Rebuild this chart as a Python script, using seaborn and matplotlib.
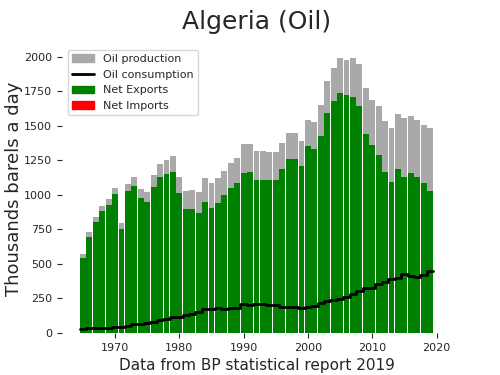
import numpy as np
import pandas as pd
import seaborn as sns
import matplotlib
matplotlib.use('Agg')
import matplotlib.pyplot as plt

# Algeria oil, thousands of barrels a day
years = list(range(1965, 2020))
production = [569, 731, 842, 922, 968, 1053, 799, 1079, 1130, 1045,
              1024, 1142, 1225, 1254, 1283, 1133, 1029, 1036, 1024, 1123,
              1084, 1125, 1176, 1232, 1266, 1367, 1370, 1319, 1319, 1314,
              1309, 1377, 1447, 1447, 1394, 1546, 1532, 1650, 1827, 1919,
              1989, 1980, 1992, 1951, 1774, 1687, 1641, 1537, 1486, 1588,
              1556, 1575, 1542, 1510, 1483]
consumption = [29, 34, 36, 36, 39, 44, 46, 50, 63, 67,
               73, 82, 95, 102, 119, 117, 131, 138, 155, 172,
               176, 181, 177, 184, 182, 210, 206, 211, 211, 206,
               200, 186, 186, 186, 184, 188, 199, 220, 230, 237,
               247, 259, 286, 305, 329, 327, 354, 373, 392, 402,
               426, 413, 409, 421, 452]

df = pd.DataFrame({'year': years, 'production': production, 'consumption': consumption})
df['net'] = df['production'] - df['consumption']
df['exports'] = df['net'].clip(lower=0)
df['imports'] = (-df['net']).clip(lower=0)

sns.set_style('ticks')
fig = plt.figure(figsize=(5, 3.75), dpi=100)
ax = fig.add_axes([0.124, 0.112, 0.778, 0.77])

bar_kw = dict(native_scale=True, saturation=1, width=0.92, errorbar=None,
              linewidth=0, edgecolor='none', ax=ax)
sns.barplot(data=df, x='year', y='production', color='darkgray', **bar_kw)
sns.barplot(data=df, x='year', y='exports', color='green', **bar_kw)
sns.barplot(data=df, x='year', y='imports', color='red', **bar_kw)

# step line spanning each bar from left to right edge
step_x = np.append(df['year'].values, df['year'].values[-1] + 1) - 0.5
step_y = np.append(df['consumption'].values, df['consumption'].values[-1])
sns.lineplot(x=step_x, y=step_y, drawstyle='steps-post', color='black',
             linewidth=2, zorder=5, ax=ax)

ax.set_xticks([1970, 1980, 1990, 2000, 2010, 2020])
ax.set_yticks(range(0, 2001, 250))
ax.tick_params(labelsize=8)
sns.despine(left=True, bottom=True)
ax.set_title('Algeria (Oil)', fontsize=18, pad=11)
ax.set_ylabel('Thousands barels a day', fontsize=13, labelpad=1)
ax.set_xlabel('Data from BP statistical report 2019', fontsize=11)

handles = [plt.Rectangle((0, 0), 1, 1, color='darkgray'),
           plt.Line2D([], [], color='black', linewidth=2),
           plt.Rectangle((0, 0), 1, 1, color='green'),
           plt.Rectangle((0, 0), 1, 1, color='red')]
labels = ['Oil production', 'Oil consumption', 'Net Exports', 'Net Imports']
ax.legend(handles, labels, loc='upper left', fontsize=8)

fig.savefig('out.png', dpi=100)
